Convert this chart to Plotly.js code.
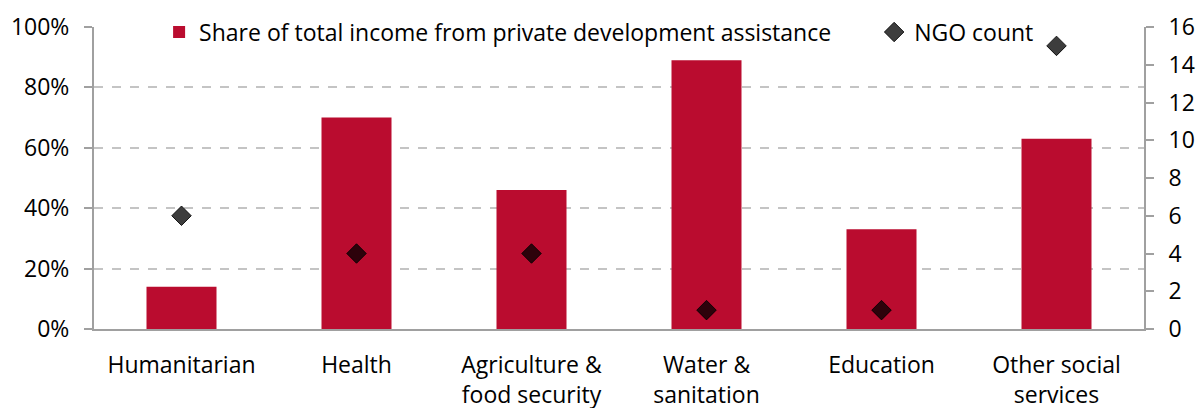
<!DOCTYPE html>
<html>
<head>
<meta charset="utf-8">
<script src="https://cdn.plot.ly/plotly-3.0.1.min.js"></script>
<style>html,body{margin:0;padding:0;background:#fff;}#chart{width:1199px;height:408px;}</style>
</head>
<body>
<div id="chart"></div>
<script>
const categories = ["Humanitarian", "Health", "Agriculture &<br>food security", "Water &<br>sanitation", "Education", "Other social<br>services"];
const sharePct = [14, 70, 46, 89, 33, 63];
const ngoCount = [6, 4, 4, 1, 1, 15];
const leftTicks = [0, 20, 40, 60, 80, 100];
const leftTickText = ["0%", "20%", "40%", "60%", "80%", "100%"];
const rightTicks = [0, 2, 4, 6, 8, 10, 12, 14, 16];

const FONT = "'Open Sans', 'Noto Sans', sans-serif";
const FS = 23;

const traces = [
  {
    type: 'bar', x: categories, y: sharePct, name: 'Share of total income from private development assistance',
    marker: {color: '#BA0C2F'}, width: 0.4, yaxis: 'y', legend: 'legend'
  },
  {
    type: 'scatter', mode: 'markers', x: categories, y: ngoCount, name: 'NGO count', yaxis: 'y2', legend: 'legend2',
    marker: {symbol: 'diamond', size: 15, color: 'rgba(0,0,0,0.76)', line: {color: 'rgba(0,0,0,0.85)', width: 1}}
  }
];

const legendBase = {
  orientation: 'h', xanchor: 'left', y: 0.98, yanchor: 'middle',
  font: {family: FONT, size: FS, color: '#000'}, bgcolor: 'rgba(255,255,255,0)', itemwidth: 30
};

const layout = {
  width: 1199, height: 408,
  margin: {l: 94, r: 55, t: 26, b: 79},
  paper_bgcolor: '#fff', plot_bgcolor: '#fff',
  font: {family: FONT, size: FS, color: '#000'},
  showlegend: true,
  legend: Object.assign({}, legendBase, {x: 0.062}),
  legend2: Object.assign({}, legendBase, {x: 0.743}),
  xaxis: {
    type: 'category', showline: true, linecolor: '#a0a0a0', linewidth: 2,
    ticks: '', showgrid: false, tickfont: {family: FONT, size: FS, color: '#000'},
    ticklabelstandoff: 14, fixedrange: true
  },
  yaxis: {
    range: [0, 100], tickvals: leftTicks, ticktext: leftTickText,
    showline: true, linecolor: '#a0a0a0', linewidth: 2,
    ticks: 'outside', ticklen: 8, tickcolor: '#a0a0a0', tickwidth: 2,
    showgrid: true, gridcolor: '#c4c4c4', griddash: 'dash', gridwidth: 2,
    zeroline: false, tickfont: {family: FONT, size: FS, color: '#000'}, ticklabelstandoff: 10
  },
  yaxis2: {
    range: [0, 16], tickvals: rightTicks, overlaying: 'y', side: 'right',
    showline: true, linecolor: '#a0a0a0', linewidth: 2,
    ticks: 'outside', ticklen: 8, tickcolor: '#a0a0a0', tickwidth: 2,
    showgrid: false, zeroline: false, tickfont: {family: FONT, size: FS, color: '#000'}, ticklabelstandoff: 10
  },
  bargap: 0.6
};

Plotly.newPlot('chart', traces, layout, {displayModeBar: false, staticPlot: true});
</script>
</body>
</html>
